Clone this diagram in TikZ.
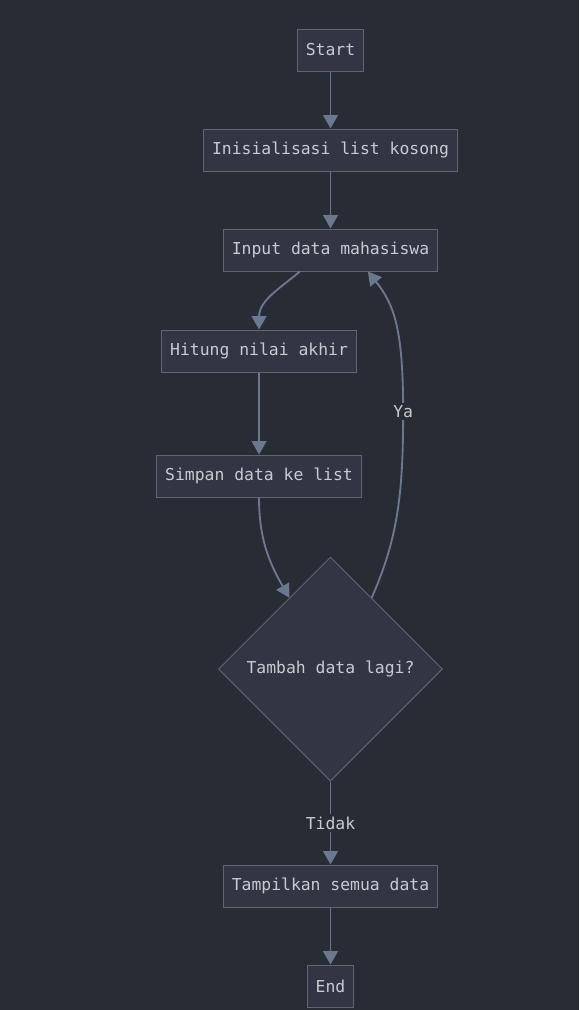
\documentclass[tikz,border=0pt]{standalone}
\usepackage{fontspec}
\setmainfont{DejaVu Sans Mono}
\usetikzlibrary{positioning,shapes.geometric,arrows.meta}
\definecolor{bg}{RGB}{40,44,52}
\definecolor{boxfill}{RGB}{51,54,66}
\definecolor{boxline}{RGB}{96,101,116}
\definecolor{arrowc}{RGB}{108,120,144}
\definecolor{txt}{RGB}{200,203,208}
\newcommand{\flowfont}{\fontsize{12.3pt}{14pt}\selectfont}

\begin{document}
\begin{tikzpicture}[x=0.75pt,y=-0.75pt,node distance=75pt,
data/.style={
rectangle,
draw=boxline,
fill=boxfill,
line width=0.75pt,
minimum height=31.5pt,
inner xsep=6.5pt,
text=txt,
font=\flowfont
},
decision/.style={
diamond,
draw=boxline,
fill=boxfill,
line width=0.75pt,
minimum width=168pt,
minimum height=168pt,
inner sep=0pt,
text=txt,
font=\flowfont
},
to/.style={-{Triangle[width=11pt,length=10pt]},draw=arrowc,line width=1.4pt},
lbl/.style={fill=bg,text=txt,inner sep=2pt,font=\flowfont},
]
\fill[bg] (0,0) rectangle (579,1010);
\useasboundingbox (0,0) rectangle (579,1010);
\node (start) [data] at (330.5,50) {Start};
\node (init) [data,below of=start] {Inisialisasi list kosong};
\node (input) [data,below of=init] {Input data mahasiswa};
\node (hitung) [data,node distance=75.75pt,below of=input,xshift=-53.6pt] {Hitung nilai akhir};
\node (simpan) [data,node distance=93.75pt,below of=hitung] {Simpan data ke list};
\node (tanya) [decision,node distance=144.75pt,below of=simpan,xshift=53.6pt] {Tambah data lagi?};
\node (tampil) [data,node distance=162.75pt,below of=tanya] {Tampilkan semua data};
\node (selesai) [data,below of=tampil] {End};
\draw[to] (start) -- (init);
\draw[to] (init) -- (input);
\draw[to] ([xshift=-23pt]input.south) .. controls +(-14pt,-12pt) and +(0,22pt) .. (hitung.north);
\draw[to] (hitung) -- (simpan);
\draw[to] (simpan.south) to[out=-90,in=120] (tanya.120);
\draw[to] (tanya.60) .. controls +(20pt,45pt) and +(0,-60pt) .. ++(23.6pt,139.5pt) node[lbl] {Ya}
  .. controls +(0,61.5pt) and +(20pt,-25pt) .. ([xshift=28pt]input.south);
\draw[to] (tanya) -- node[lbl] {Tidak} (tampil);
\draw[to] (tampil) -- (selesai);
\end{tikzpicture}
\end{document}
